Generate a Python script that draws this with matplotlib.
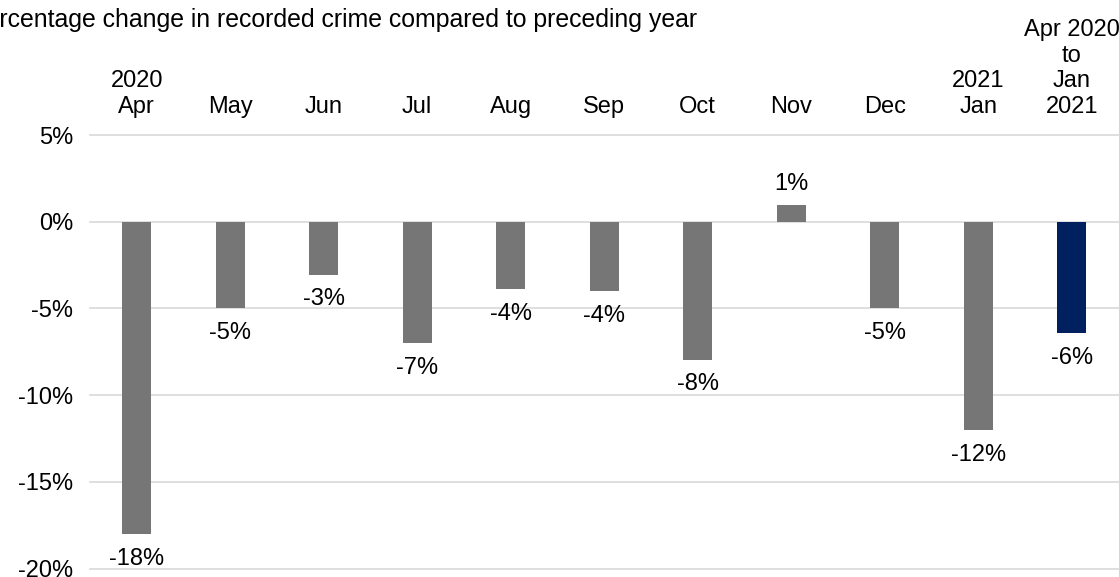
import matplotlib.pyplot as plt
import matplotlib.transforms as mtransforms

plt.rcParams['font.family'] = ['Liberation Sans', 'DejaVu Sans']

# データ
labels = ['2020\nApr', 'May', 'Jun', 'Jul', 'Aug', 'Sep', 'Oct', 'Nov', 'Dec',
          '2021\nJan', 'Apr 2020\nto\nJan\n2021']
values = [-18.0, -5.0, -3.05, -7.0, -3.9, -4.0, -7.95, 0.97, -5.0, -12.0, -6.4]
colors = ['#767676'] * 10 + ['#002060']
yticks = [5, 0, -5, -10, -15, -20]
title = 'Percentage change in recorded crime compared to preceding year'

fs = 17

fig = plt.figure(figsize=(11.19, 5.77), dpi=100)
ax = fig.add_axes([90 / 1119, 1 - 568.5 / 577, 1028.5 / 1119, (568.5 - 135) / 577])

x = list(range(len(values)))
ax.bar(x, values, width=0.31, color=colors, zorder=3)

ax.set_xlim(-0.5, len(values) - 0.5)
ax.set_ylim(-20, 5)
ax.set_yticks(yticks)
ax.set_yticklabels([f'{t}%' for t in yticks], fontsize=fs, color='#000000')
ax.set_xticks([])
ax.tick_params(axis='y', length=0, pad=12)
ax.grid(axis='y', color='#d9d9d9', linewidth=1.2, zorder=0)
for gl in ax.get_ygridlines():
    gl.set_clip_on(False)
for s in ax.spines.values():
    s.set_visible(False)

# データラベル
for xi, v in zip(x, values):
    if v < 0:
        ax.annotate(f'{round(v)}%', (xi, v), xytext=(0, -10), textcoords='offset points',
                    ha='center', va='top', fontsize=fs)
    else:
        ax.annotate(f'{round(v)}%', (xi, v), xytext=(0, 7), textcoords='offset points',
                    ha='center', va='bottom', fontsize=fs)

# カテゴリラベル（上側）
trans = mtransforms.blended_transform_factory(ax.transData, ax.transAxes)
for xi, lab in zip(x, labels):
    ax.text(xi, 1.04, lab, transform=trans, ha='center', va='bottom',
            multialignment='center', fontsize=fs, linespacing=1.2)

# タイトル（左端が切れている）
fig.text(697 / 1119, 1 - 20 / 577, title, ha='right', va='center', fontsize=17.9)

fig.savefig('out.png', dpi=100)
